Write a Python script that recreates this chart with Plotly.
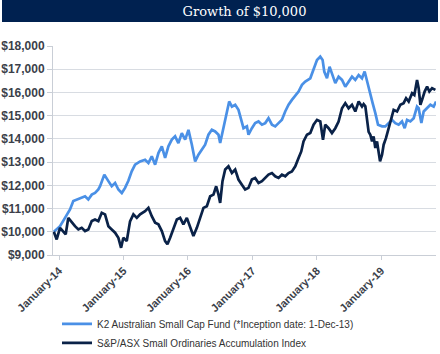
import pandas as pd
import plotly.graph_objects as go

# ---- data (decimal years, dollar values) ----
fund_t = [2013.92, 2014.016, 2014.093, 2014.171, 2014.222, 2014.275, 2014.326, 2014.404, 2014.455,
          2014.508, 2014.559, 2014.610, 2014.637, 2014.703, 2014.766, 2014.818, 2014.870, 2014.921,
          2014.974, 2015.025, 2015.076, 2015.128, 2015.180, 2015.258, 2015.335, 2015.387, 2015.439,
          2015.491, 2015.542, 2015.595, 2015.646, 2015.697, 2015.750, 2015.801, 2015.852, 2015.905,
          2015.957, 2016.008, 2016.061, 2016.112, 2016.163, 2016.216, 2016.267, 2016.318, 2016.371,
          2016.422, 2016.474, 2016.500, 2016.551, 2016.604, 2016.640, 2016.682, 2016.733, 2016.784,
          2016.826, 2016.862, 2016.915, 2016.939, 2016.992, 2017.043, 2017.095, 2017.148, 2017.199,
          2017.250, 2017.303, 2017.354, 2017.405, 2017.458, 2017.509, 2017.561, 2017.613, 2017.665,
          2017.716, 2017.769, 2017.820, 2017.898, 2017.949, 2018.002, 2018.053, 2018.089, 2018.115,
          2018.157, 2018.197, 2018.234, 2018.286, 2018.337, 2018.390, 2018.441, 2018.492, 2018.545,
          2018.596, 2018.648, 2018.700, 2018.741, 2018.793, 2018.829, 2018.865, 2018.907, 2018.949,
          2019.011, 2019.062, 2019.113, 2019.166, 2019.217, 2019.269, 2019.321, 2019.362, 2019.399,
          2019.450, 2019.502, 2019.554, 2019.579, 2019.621, 2019.657, 2019.710, 2019.761, 2019.812,
          2019.849]
fund_v = [10000, 10240, 10600, 10960, 11320, 11390, 11460, 11530, 11390,
          11600, 11670, 11820, 11960, 12460, 12180, 11960, 12100, 11820,
          11670, 11890, 12200, 12600, 12890, 13030, 13100, 12960, 13250,
          12890, 13390, 13680, 13180, 13680, 13970, 14110, 13820, 14250,
          13970, 14390, 13750, 13030, 13320, 13530, 13750, 14180, 14390,
          14320, 14180, 13820, 14460, 15110, 15610, 15390, 15470, 15250,
          14750, 14460, 14540, 14180, 14460, 14680, 14750, 14610, 14680,
          14890, 14610, 14540, 14680, 14820, 15180, 15470, 15680, 15890,
          16040, 16330, 16470, 16610, 17040, 17400, 17540, 17400, 16900,
          16610, 17110, 16820, 16400, 16680, 16540, 16250, 16470, 16680,
          16540, 16750, 16610, 16900, 16330, 15890, 15540, 15110, 14610,
          14540, 14540, 14680, 14820, 14680, 14610, 14750, 14460, 14820,
          14750, 14890, 15390, 15320, 14680, 15180, 15320, 15470, 15390,
          15610]

index_t = [2013.92, 2013.964, 2014.016, 2014.067, 2014.104, 2014.144, 2014.197, 2014.248, 2014.300,
           2014.352, 2014.404, 2014.455, 2014.508, 2014.559, 2014.610, 2014.663, 2014.714, 2014.766,
           2014.818, 2014.870, 2014.921, 2014.963, 2014.998, 2015.051, 2015.102, 2015.154, 2015.207,
           2015.258, 2015.335, 2015.387, 2015.439, 2015.491, 2015.542, 2015.595, 2015.646, 2015.682,
           2015.724, 2015.775, 2015.828, 2015.879, 2015.930, 2015.983, 2016.034, 2016.085, 2016.138,
           2016.189, 2016.241, 2016.293, 2016.345, 2016.396, 2016.438, 2016.474, 2016.500, 2016.536,
           2016.578, 2016.629, 2016.682, 2016.733, 2016.784, 2016.837, 2016.888, 2016.939, 2016.992,
           2017.043, 2017.095, 2017.148, 2017.199, 2017.250, 2017.303, 2017.354, 2017.405, 2017.458,
           2017.509, 2017.561, 2017.613, 2017.665, 2017.716, 2017.758, 2017.793, 2017.846, 2017.898,
           2017.949, 2018.002, 2018.053, 2018.095, 2018.130, 2018.182, 2018.234, 2018.286, 2018.337,
           2018.390, 2018.441, 2018.492, 2018.545, 2018.596, 2018.648, 2018.700, 2018.725, 2018.752,
           2018.778, 2018.803, 2018.829, 2018.856, 2018.880, 2018.907, 2018.933, 2018.958, 2018.980,
           2019.011, 2019.036, 2019.073, 2019.113, 2019.155, 2019.191, 2019.244, 2019.295, 2019.346,
           2019.384, 2019.424, 2019.477, 2019.512, 2019.554, 2019.579, 2019.606, 2019.632, 2019.672,
           2019.710, 2019.745, 2019.787, 2019.839]
index_v = [10000, 9670, 10170, 10030, 9890, 10600, 10390, 10240, 10100,
           10170, 10030, 10100, 10460, 10530, 10460, 10820, 10750, 10240,
           10100, 9960, 9740, 9310, 9740, 9600, 10450, 10750, 10600,
           10750, 10890, 11030, 10670, 10390, 10320, 10030, 9600, 9460,
           9740, 10170, 10530, 10600, 10320, 10600, 10170, 9820, 10170,
           10600, 11030, 11100, 11530, 11600, 11960, 11600, 11240, 12180,
           12680, 12820, 12530, 12680, 12250, 12030, 11820, 11890, 12250,
           12320, 12100, 12180, 12320, 12460, 12530, 12390, 12320, 12460,
           12390, 12530, 12600, 12820, 13180, 13460, 13890, 14180, 14250,
           14610, 14820, 14750, 13960, 14610, 14460, 14250, 14460, 14750,
           15320, 15540, 15320, 15470, 15180, 15610, 15390, 15500, 15400,
           14890, 14300, 14180, 13890, 14110, 13610, 13890, 13390, 13030,
           13320, 13750, 14040, 14460, 14970, 15250, 15180, 15470, 15540,
           15750, 15610, 15970, 15890, 16540, 16180, 15470, 15680, 16040,
           16250, 16040, 16180, 16110]

fund_name = "K2 Australian Small Cap Fund (*Inception date: 1-Dec-13)"
index_name = "S&P/ASX Small Ordinaries Accumulation Index"
tick_dates = ["2014-01-01", "2015-01-01", "2016-01-01", "2017-01-01", "2018-01-01", "2019-01-01"]
tick_labels = ["January-14", "January-15", "January-16", "January-17", "January-18", "January-19"]
title_text = "Growth of $10,000"


def to_dates(ts):
    base = pd.Timestamp("2014-01-01")
    return [base + pd.to_timedelta((t - 2014) * 365.25, unit="D") for t in ts]


fig = go.Figure()
fig.add_trace(go.Scatter(x=to_dates(fund_t), y=fund_v, mode="lines", name=fund_name,
                         line=dict(color="#4a90e6", width=2.7)))
fig.add_trace(go.Scatter(x=to_dates(index_t), y=index_v, mode="lines", name=index_name,
                         line=dict(color="#0a2248", width=2.7)))

W, H = 440, 354
ml, mr, mt, mb = 53, 4, 46, 99
pw, ph = W - ml - mr, H - mt - mb

fig.add_shape(type="rect", xref="paper", yref="paper",
              x0=(2 - ml) / pw, x1=(438 - ml) / pw,
              y0=(H - mb - 22) / ph, y1=(H - mb) / ph,
              fillcolor="#002150", line=dict(width=0), layer="above")

fig.update_layout(
    width=W, height=H,
    margin=dict(l=ml, r=mr, t=mt, b=mb, autoexpand=False),
    paper_bgcolor="white", plot_bgcolor="white",
    title=dict(text=title_text, x=0.5, xref="paper", xanchor="center",
               y=1 - 11.5 / H, yref="container", yanchor="middle",
               font=dict(family="DejaVu Serif", size=13, color="white")),
    showlegend=True,
    legend=dict(orientation="v", x=(57 - ml) / pw, xanchor="left", xref="paper",
                y=-0.26, yanchor="top", font=dict(family="Liberation Sans", size=10, color="#333333"),
                bgcolor="rgba(0,0,0,0)", tracegroupgap=0),
    font=dict(family="Liberation Sans"),
)
fig.update_xaxes(type="date", range=["2013-11-28", "2019-11-07"],
                 tickvals=tick_dates, ticktext=tick_labels, tickangle=-45,
                 tickfont=dict(family="Liberation Sans", size=11, color="#3b3f4a", weight="bold"),
                 showgrid=False, showline=True, linecolor="#c9ced6", linewidth=1,
                 ticks="outside", ticklen=4, tickcolor="#c9ced6", zeroline=False)
fig.update_yaxes(range=[9000, 18000], dtick=1000, tickformat="$,.0f",
                 tickfont=dict(family="Liberation Sans", size=12, color="#3b3f4a", weight="bold"),
                 showgrid=True, gridcolor="#d8dce2", gridwidth=1,
                 showline=True, linecolor="#c9ced6", linewidth=1,
                 ticks="outside", ticklen=5, tickcolor="#c9ced6", zeroline=False)

fig.write_html("out.html")
